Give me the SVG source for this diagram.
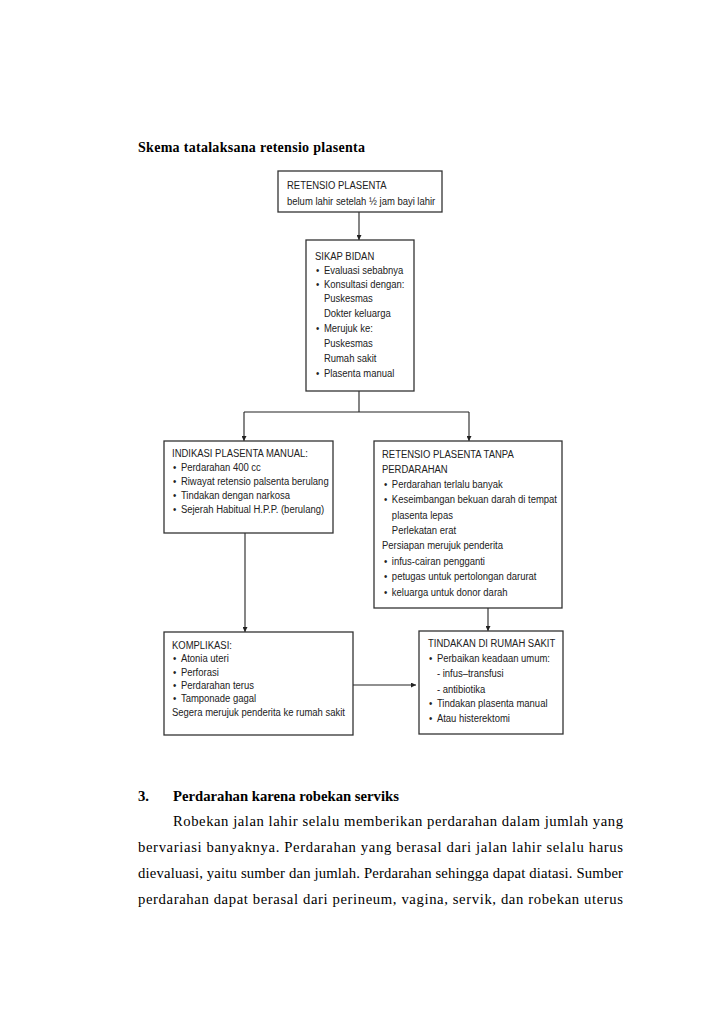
<svg xmlns="http://www.w3.org/2000/svg" width="728" height="1030" viewBox="0 0 728 1030">
<defs>
<marker id="ah" viewBox="0 0 8 8" refX="8" refY="4" markerWidth="5" markerHeight="5" orient="auto" markerUnits="userSpaceOnUse">
<path d="M0,0 L8,4 L0,8 z" fill="#222"/>
</marker>
<style>
.box{fill:#fff;stroke:#333;stroke-width:1.3}
.t{font-family:"Liberation Sans",Arial,sans-serif;font-size:11.7px;fill:#222}
.c{fill:none;stroke:#222;stroke-width:1.1}
.h{font-family:"Liberation Serif","Times New Roman",serif;font-weight:bold;fill:#000}
.p{font-family:"Liberation Serif","Times New Roman",serif;font-size:14.7px;fill:#000}
</style>
</defs>
<rect width="728" height="1030" fill="#fff"/>
<text class="h" x="138" y="152" font-size="14" textLength="227" lengthAdjust="spacing">Skema tatalaksana retensio plasenta</text>

<g id="connectors">
<path class="c" d="M359,212 V240" marker-end="url(#ah)"/>
<path class="c" d="M359,391 V412 M244,412 H469"/>
<path class="c" d="M244,412 V441" marker-end="url(#ah)"/>
<path class="c" d="M469,412 V441" marker-end="url(#ah)"/>
<path class="c" d="M245,533 V632" marker-end="url(#ah)"/>
<path class="c" d="M488,608 V631" marker-end="url(#ah)"/>
<path class="c" d="M353,685 H416" marker-end="url(#ah)"/>
</g>

<g id="retensio">
<rect class="box" x="278" y="171" width="164" height="41"/>
<g transform="translate(287,0) scale(0.81,1)">
<text class="t" x="0" y="189">RETENSIO PLASENTA</text>
<text class="t" x="0" y="205">belum lahir setelah ½ jam bayi lahir</text>
</g>
</g>

<g id="sikap">
<rect class="box" x="306" y="240" width="108" height="151"/>
<g transform="translate(315,0) scale(0.81,1)">
<text class="t" x="0" y="260">SIKAP BIDAN</text>
<text class="t" x="1.2" y="274">•</text><text class="t" x="11" y="274">Evaluasi sebabnya</text>
<text class="t" x="1.2" y="288">•</text><text class="t" x="11" y="288">Konsultasi dengan:</text>
<text class="t" x="11" y="302">Puskesmas</text>
<text class="t" x="11" y="317">Dokter keluarga</text>
<text class="t" x="1.2" y="332">•</text><text class="t" x="11" y="332">Merujuk ke:</text>
<text class="t" x="11" y="347">Puskesmas</text>
<text class="t" x="11" y="362">Rumah sakit</text>
<text class="t" x="1.2" y="377">•</text><text class="t" x="11" y="377">Plasenta manual</text>
</g>
</g>

<g id="indikasi">
<rect class="box" x="164" y="441" width="169" height="92"/>
<g transform="translate(172,0) scale(0.81,1)">
<text class="t" x="0" y="457">INDIKASI PLASENTA MANUAL:</text>
<text class="t" x="1.2" y="471">•</text><text class="t" x="11" y="471">Perdarahan 400 cc</text>
<text class="t" x="1.2" y="485">•</text><text class="t" x="11" y="485">Riwayat retensio palsenta berulang</text>
<text class="t" x="1.2" y="499">•</text><text class="t" x="11" y="499">Tindakan dengan narkosa</text>
<text class="t" x="1.2" y="513">•</text><text class="t" x="11" y="513">Sejerah Habitual H.P.P. (berulang)</text>
</g>
</g>

<g id="tanpa">
<rect class="box" x="374" y="441" width="188" height="167"/>
<g transform="translate(382,0) scale(0.81,1)">
<text class="t" x="0" y="458">RETENSIO PLASENTA TANPA</text>
<text class="t" x="0" y="473">PERDARAHAN</text>
<text class="t" x="2.4" y="488">•</text><text class="t" x="12.2" y="488">Perdarahan terlalu banyak</text>
<text class="t" x="2.4" y="503">•</text><text class="t" x="12.2" y="503">Keseimbangan bekuan darah di tempat</text>
<text class="t" x="12.2" y="519">plasenta lepas</text>
<text class="t" x="12.2" y="534">Perlekatan erat</text>
<text class="t" x="0" y="549">Persiapan merujuk penderita</text>
<text class="t" x="2.4" y="565">•</text><text class="t" x="12.2" y="565">infus-cairan pengganti</text>
<text class="t" x="2.4" y="580">•</text><text class="t" x="12.2" y="580">petugas untuk pertolongan darurat</text>
<text class="t" x="2.4" y="596">•</text><text class="t" x="12.2" y="596">keluarga untuk donor darah</text>
</g>
</g>

<g id="komplikasi">
<rect class="box" x="164" y="632" width="189" height="103"/>
<g transform="translate(172,0) scale(0.81,1)">
<text class="t" x="0" y="649">KOMPLIKASI:</text>
<text class="t" x="1.2" y="662">•</text><text class="t" x="11" y="662">Atonia uteri</text>
<text class="t" x="1.2" y="676">•</text><text class="t" x="11" y="676">Perforasi</text>
<text class="t" x="1.2" y="689">•</text><text class="t" x="11" y="689">Perdarahan terus</text>
<text class="t" x="1.2" y="702">•</text><text class="t" x="11" y="702">Tamponade gagal</text>
<text class="t" x="0" y="716">Segera merujuk penderita ke rumah sakit</text>
</g>
</g>

<g id="tindakan">
<rect class="box" x="419" y="631" width="144" height="103"/>
<g transform="translate(428,0) scale(0.81,1)">
<text class="t" x="0" y="647">TINDAKAN DI RUMAH SAKIT</text>
<text class="t" x="1.2" y="662">•</text><text class="t" x="11" y="662">Perbaikan keadaan umum:</text>
<text class="t" x="11" y="677">- infus–transfusi</text>
<text class="t" x="11" y="693">- antibiotika</text>
<text class="t" x="1.2" y="707">•</text><text class="t" x="11" y="707">Tindakan plasenta manual</text>
<text class="t" x="1.2" y="722">•</text><text class="t" x="11" y="722">Atau histerektomi</text>
</g>
</g>

<text class="h" x="138" y="801" font-size="14.7">3.</text>
<text class="h" x="173" y="801" font-size="14.7">Perdarahan karena robekan serviks</text>
<text class="p" x="173" y="826" textLength="450" lengthAdjust="spacing">Robekan jalan lahir selalu memberikan perdarahan dalam jumlah yang</text>
<text class="p" x="138" y="852" textLength="485" lengthAdjust="spacing">bervariasi banyaknya. Perdarahan yang berasal dari jalan lahir selalu harus</text>
<text class="p" x="138" y="878" textLength="485" lengthAdjust="spacing">dievaluasi, yaitu sumber dan jumlah. Perdarahan sehingga dapat diatasi. Sumber</text>
<text class="p" x="138" y="904" textLength="485" lengthAdjust="spacing">perdarahan dapat berasal dari perineum, vagina, servik, dan robekan uterus</text>
</svg>
